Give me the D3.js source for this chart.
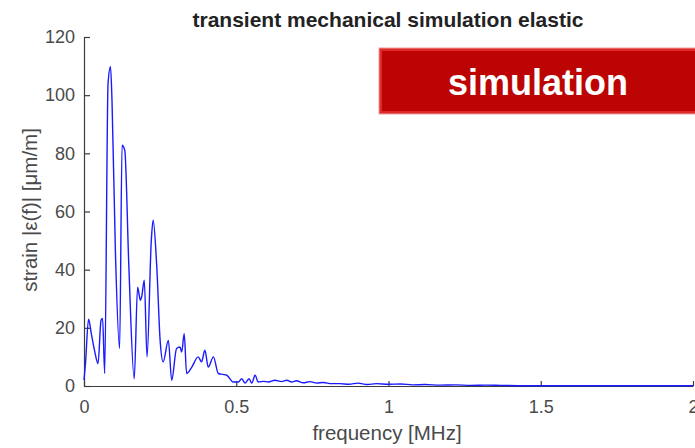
<!DOCTYPE html>
<html>
<head>
<meta charset="utf-8">
<script src="https://cdn.jsdelivr.net/npm/d3@7"></script>
<style>
  body { margin: 0; background: #fff; }
  text { font-family: "Liberation Sans", Arial, sans-serif; }
</style>
</head>
<body>
<div id="chart"></div>
<script>
// strain spectrum
var freq = [0, 0.005, 0.015, 0.024, 0.035, 0.046, 0.056, 0.061, 0.068, 0.079, 0.087, 0.092, 0.103, 0.117, 0.125, 0.134, 0.147, 0.165, 0.176, 0.185, 0.19, 0.198, 0.207, 0.221, 0.227, 0.239, 0.25, 0.26, 0.277, 0.288, 0.304, 0.315, 0.321, 0.329, 0.337, 0.354, 0.375, 0.386, 0.397, 0.408, 0.425, 0.441, 0.455, 0.469, 0.49, 0.507, 0.518, 0.529, 0.542, 0.551, 0.562, 0.572, 0.59, 0.605, 0.627, 0.649, 0.666, 0.682, 0.698, 0.72, 0.742, 0.764, 0.786, 0.813, 0.84, 0.87, 0.9, 0.93, 0.96, 1.0, 1.04, 1.08, 1.12, 1.17, 1.22, 1.27, 1.32, 1.37, 1.45, 1.6, 1.8, 2.0]
var strain = [2, 8, 23, 18, 12, 7.7, 22.6, 23.2, 4.3, 104, 109.8, 98, 46.7, 12.9, 82.8, 81, 42, 2.5, 34, 29.5, 31, 36.4, 10, 50, 57, 41, 15.7, 8.3, 15.7, 2, 12.9, 13.4, 11.7, 18, 4.3, 6.5, 10, 8.3, 12.3, 6.5, 10, 4.3, 4, 3.7, 1.4, 1.4, 2.5, 1, 2.5, 1, 3.7, 1.4, 1.6, 1.4, 2.0, 1.5, 2, 1.4, 1.8, 1.1, 1.5, 1, 1.2, 0.8, 0.8, 0.6, 1.0, 0.5, 0.8, 0.6, 0.7, 0.4, 0.5, 0.3, 0.4, 0.2, 0.3, 0.2, 0.1, 0.1, 0.1, 0.1]

var xTicks = [0, 0.5, 1, 1.5, 2]
var yTicks = [0, 20, 40, 60, 80, 100, 120]

var title = "transient mechanical simulation elastic"
var xLabel = "frequency [MHz]"
var yLabel = "strain |\u03B5(f)| [\u03BCm/m]"
var badge = "simulation"

var width = 695, height = 448
var margin = { top: 37, right: 2, bottom: 62, left: 84 }

var svg = d3.select("#chart").append("svg")
    .attr("width", width)
    .attr("height", height)

var x = d3.scaleLinear().domain([0, 2]).range([margin.left, width - margin.right])
var y = d3.scaleLinear().domain([0, 120]).range([height - margin.bottom, margin.top])

data = freq.map(function (f, i) { return [f, strain[i]] })

// axes, ticks point inward like matlab
var xAxis = svg.append("g")
    .attr("transform", "translate(0," + y(0) + ")")
    .call(d3.axisBottom(x).tickValues(xTicks).tickFormat(d3.format("")).tickSizeInner(-5).tickSizeOuter(0).tickPadding(14))
var yAxis = svg.append("g")
    .attr("transform", "translate(" + x(0) + ",0)")
    .call(d3.axisLeft(y).tickValues(yTicks).tickSizeInner(-6).tickSizeOuter(0).tickPadding(9))

svg.selectAll(".domain, .tick line").attr("stroke", "#3c3c3c").attr("stroke-width", 1.2)
svg.selectAll(".tick text")
    .attr("fill", "#4a4a4a")
    .attr("font-size", "18px")
    .attr("font-family", "Liberation Sans, Arial, sans-serif")

// spectrum line
var line = d3.line()
    .x(function (d) { return x(d[0]) })
    .y(function (d) { return y(d[1]) })
    .curve(d3.curveMonotoneX)

svg.append("path")
    .datum(data)
    .attr("fill", "none")
    .attr("stroke", "#1a1aff")
    .attr("stroke-width", 1.4)
    .attr("stroke-linejoin", "round")
    .attr("d", line)

// title and labels
svg.append("text")
    .attr("x", 388)
    .attr("y", 27)
    .attr("text-anchor", "middle")
    .attr("font-size", "21px")
    .attr("font-weight", "bold")
    .attr("fill", "#222")
    .text(title)

svg.append("text")
    .attr("x", 387)
    .attr("y", 440)
    .attr("text-anchor", "middle")
    .attr("font-size", "20.5px")
    .attr("fill", "#4a4a4a")
    .text(xLabel)

svg.append("text")
    .attr("transform", "translate(37,210) rotate(-90)")
    .attr("text-anchor", "middle")
    .attr("font-size", "20.5px")
    .attr("fill", "#4a4a4a")
    .text(yLabel)

// red badge
var bx = 379, by = 48, bw = 330, bh = 66
svg.append("rect")
    .attr("x", bx).attr("y", by).attr("width", bw).attr("height", bh)
    .attr("fill", "#e02a2a")
    .attr("stroke", "#e8a0a0")
    .attr("stroke-width", 1)
svg.append("rect")
    .attr("x", bx + 3).attr("y", by + 3).attr("width", bw - 6).attr("height", bh - 6)
    .attr("fill", "#bc0404")
svg.append("text")
    .attr("x", 538)
    .attr("y", 95)
    .attr("text-anchor", "middle")
    .attr("font-size", "36px")
    .attr("font-weight", "bold")
    .attr("fill", "#fff")
    .text(badge)
</script>
</body>
</html>
